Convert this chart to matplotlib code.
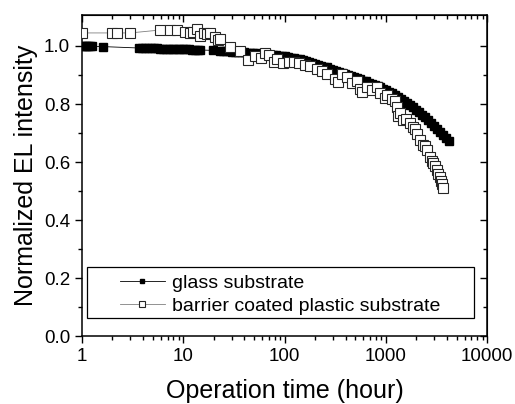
import numpy as np
import matplotlib
matplotlib.use('Agg')
import matplotlib.pyplot as plt
from matplotlib.patches import Rectangle

plt.rcParams['font.family'] = ['Liberation Sans', 'DejaVu Sans']

# glass substrate (filled squares)
glass_t = [1.0, 1.05, 1.1, 1.15, 1.2, 1.25, 1.6, 3.7, 3.95, 4.2,
           4.5, 4.8, 5.1, 5.5, 5.9, 6.3, 6.7, 7.2, 7.7, 8.2,
           8.8, 9.4, 10.0, 10.7, 11.5, 12.3, 13.1, 14.0, 14.8, 19.7,
           23, 24.6, 26.3, 28.1, 30.1, 32.2, 34.5, 36.9, 39.5, 42.2,
           45.2, 48.3, 51.7, 55.3, 59.2, 63.3, 67.8, 72.5, 77.6, 83,
           88.8, 95, 101.7, 108.8, 116.4, 124.5, 133.3, 142.6, 152.6, 163.3,
           174.7, 186.9, 200, 214, 229, 245, 262, 280, 300, 321,
           343, 367, 393, 421, 450, 482, 515, 551, 590, 631,
           675, 723, 773, 827, 885, 947, 1014, 1085, 1161, 1242,
           1329, 1422, 1521, 1628, 1742, 1864, 1994, 2134, 2283, 2443,
           2614, 2797, 2993, 3202, 3426, 3666, 3923, 4160]
glass_el = [1.0, 1.0, 1.0, 0.999, 0.999, 0.999, 0.998, 0.993, 0.993, 0.993,
            0.992, 0.992, 0.992, 0.992, 0.991, 0.991, 0.990, 0.990, 0.990, 0.989,
            0.989, 0.989, 0.988, 0.988, 0.988, 0.987, 0.987, 0.987, 0.986, 0.985,
            0.984, 0.983, 0.983, 0.982, 0.981, 0.980, 0.980, 0.979, 0.978, 0.977,
            0.976, 0.976, 0.975, 0.974, 0.973, 0.972, 0.971, 0.970, 0.969, 0.968,
            0.967, 0.966, 0.964, 0.962, 0.960, 0.958, 0.956, 0.954, 0.951, 0.948,
            0.945, 0.942, 0.939, 0.935, 0.932, 0.929, 0.926, 0.922, 0.918, 0.915,
            0.912, 0.908, 0.905, 0.901, 0.897, 0.893, 0.889, 0.885, 0.881, 0.878,
            0.874, 0.870, 0.866, 0.861, 0.857, 0.852, 0.847, 0.842, 0.837, 0.831,
            0.825, 0.819, 0.812, 0.805, 0.797, 0.789, 0.781, 0.772, 0.763, 0.754,
            0.744, 0.734, 0.724, 0.713, 0.702, 0.692, 0.682, 0.673]

# barrier coated plastic substrate (open squares)
plastic_t = [1.0, 2.0, 2.2, 3.0, 5.9, 7.4, 8.6, 10.4, 11.7, 12.4, 13.7, 14.5, 16, 17, 18.4, 20.6,
             22, 23, 29, 36, 44, 51, 58, 64, 70, 78, 84, 96, 110, 125, 140, 160, 178, 209, 235,
             262, 315, 338, 370, 415, 465, 520, 556, 580, 650, 730, 815, 875, 980, 1025, 1150,
             1230, 1290, 1320, 1375, 1470, 1570, 1733, 1855, 1945, 2040, 2180, 2340, 2450, 2560,
             2750, 2870, 2950, 3080, 3230, 3300, 3460, 3540, 3620, 3700]
plastic_el = [1.045, 1.045, 1.045, 1.045, 1.055, 1.055, 1.055, 1.047, 1.045, 1.048, 1.057, 1.036,
              1.045, 1.043, 1.045, 1.032, 1.020, 1.024, 0.998, 0.983, 0.952, 0.964, 0.958, 0.975,
              0.968, 0.946, 0.955, 0.943, 0.945, 0.944, 0.940, 0.935, 0.930, 0.922, 0.915, 0.905,
              0.885, 0.875, 0.905, 0.893, 0.872, 0.878, 0.852, 0.840, 0.860, 0.848, 0.858, 0.838,
              0.822, 0.830, 0.818, 0.812, 0.790, 0.758, 0.770, 0.745, 0.750, 0.733, 0.720, 0.715,
              0.695, 0.677, 0.660, 0.655, 0.640, 0.618, 0.605, 0.596, 0.585, 0.572, 0.560, 0.548,
              0.535, 0.525, 0.512]

xticks = [1, 10, 100, 1000, 10000]
xtick_labels = ['1', '10', '100', '1000', '10000']
yticks = [0.0, 0.2, 0.4, 0.6, 0.8, 1.0]
yminor = [0.1, 0.3, 0.5, 0.7, 0.9]

fig = plt.figure(figsize=(5.15, 4.04), dpi=100)
ax = fig.add_axes([0.159, 0.168, 0.787, 0.795])

ax.plot(glass_t, glass_el, color='black', lw=0.6, marker='s', ms=6, mfc='black', mec='black',
        label='glass substrate', zorder=2)
ax.plot(plastic_t, plastic_el, color='0.5', lw=0.6, marker='s', ms=6.5, mfc='white', mec='0.15',
        mew=0.8, label='barrier coated plastic substrate', zorder=3)

ax.set_xscale('log')
ax.set_xlim(1, 10000)
ax.set_ylim(0, 1.107)
ax.set_xticks(xticks, xtick_labels)
ax.set_yticks(yticks, [f'{v:.1f}' for v in yticks])
ax.set_yticks(yminor, minor=True)
ax.tick_params(which='both', direction='out', labelsize=13.5, width=1, top=False, right=False)
ax.tick_params(which='major', length=5)
ax.tick_params(which='minor', length=3)
for s in ax.spines.values():
    s.set_linewidth(1.1)

# mirrored ticks pointing inward on top and right
top = ax.secondary_xaxis('top')
top.set_xticks(xticks)
top.tick_params(which='both', direction='in', labeltop=False, width=1)
top.tick_params(which='major', length=5)
top.tick_params(which='minor', length=3)
right = ax.secondary_yaxis('right')
right.set_yticks(yticks)
right.set_yticks(yminor, minor=True)
right.tick_params(which='both', direction='in', labelright=False, width=1)
right.tick_params(which='major', length=5)
right.tick_params(which='minor', length=3)

ax.set_xlabel('Operation time (hour)', fontsize=18, labelpad=10)
ax.set_ylabel('Normalized EL intensity', fontsize=18, labelpad=4)

# legend box drawn separately so the handles can sit indented
ax.add_patch(Rectangle((0.0123, 0.056), 0.956, 0.159, transform=ax.transAxes, fill=False,
                       edgecolor='black', lw=0.9, clip_on=False, zorder=5))
ax.legend(loc='center left', bbox_to_anchor=(120 / 515, (404 - 294.5) / 404),
          bbox_transform=fig.transFigure, frameon=False, borderpad=0, borderaxespad=0,
          fontsize=14, handlelength=2.3, handletextpad=0.4, labelspacing=0.3,
          numpoints=1, markerscale=0.6)

fig.savefig('out.png', dpi=100)
